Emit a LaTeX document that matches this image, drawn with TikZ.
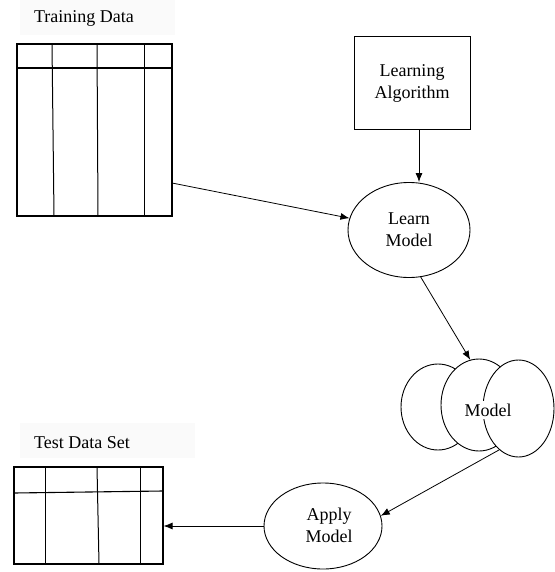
\documentclass[tikz,border=0pt]{standalone}
\usepackage{fontspec}
\setmainfont{Liberation Serif}
\usetikzlibrary{shapes.geometric,arrows.meta}
\begin{document}
\begin{tikzpicture}[x=1pt,y=-1pt,
  line width=0.9pt,
  lbl/.style={font=\fontsize{18}{22}\selectfont, align=center, inner sep=0pt},
  ell/.style={ellipse, draw, fill=white, inner sep=0pt},
  arr/.style={-{Latex[length=9pt,width=7pt]}, line width=0.8pt},
  tbl/.style={draw, rectangle, inner sep=0pt, line width=1.1pt}
]
\useasboundingbox (0,0) rectangle (554,572);
% label backgrounds
\fill[black!2] (20,0) rectangle (175,35);
\fill[black!2] (20,423) rectangle (195,458);
\node[lbl] (trainlbl) at (84,18) {Training Data};
\node[lbl] (testlbl) at (82,443) {Test Data Set};
% training table
\node[tbl, minimum width=155pt, minimum height=172pt] (train) at (94.5,130) {};
\draw[line width=1.1pt] (17,68) -- (172,68);
\draw[line width=1pt] (52,44) -- (54,216);
\draw[line width=1pt] (97,44) -- (98,216);
\draw[line width=1pt] (144,44) -- (144,216);
% test table
\node[tbl, minimum width=149pt, minimum height=97pt] (test) at (88.5,515.5) {};
\draw[line width=1.1pt] (14,493) -- (163,491);
\draw[line width=1pt] (45,467) -- (45,564);
\draw[line width=1pt] (97,467) -- (99,564);
\draw[line width=1pt] (140,467) -- (140,564);
% learning algorithm
\node[draw, rectangle, minimum width=116pt, minimum height=93pt, lbl, line width=1pt] (algo) at (412,83.5) {Learning\\Algorithm};
% learn model
\node[ell, lbl, minimum width=122pt, minimum height=95pt] (learn) at (409,230) {Learn\\Model};
% model stack
\node[ell, minimum width=74pt, minimum height=86pt] (m1) at (438,407) {};
\node[ell, minimum width=76pt, minimum height=92pt] (m2) at (479,405) {};
\node[ell, minimum width=71pt, minimum height=97pt] (m3) at (518.5,408.5) {};
\node[lbl, fill=white, inner xsep=1pt, inner ysep=3pt] (mtxt) at (488,410) {Model};
% apply model
\node[ell, minimum width=118pt, minimum height=86pt] (apply) at (323,526) {};
\node[lbl] (applytxt) at (329,525) {Apply\\Model};
% connectors
\coordinate (t1) at (172,183);
\draw[arr] (t1) -- (learn);
\coordinate (a1) at (419,130);
\draw[arr] (a1) -- (a1 |- learn.north);
\draw[arr] (learn.-76) -- (m2.101);
\draw[arr] (m3.-115) -- (apply.10);
\draw[arr] (apply.west) -- (test.east |- apply.west);
\end{tikzpicture}
\end{document}
